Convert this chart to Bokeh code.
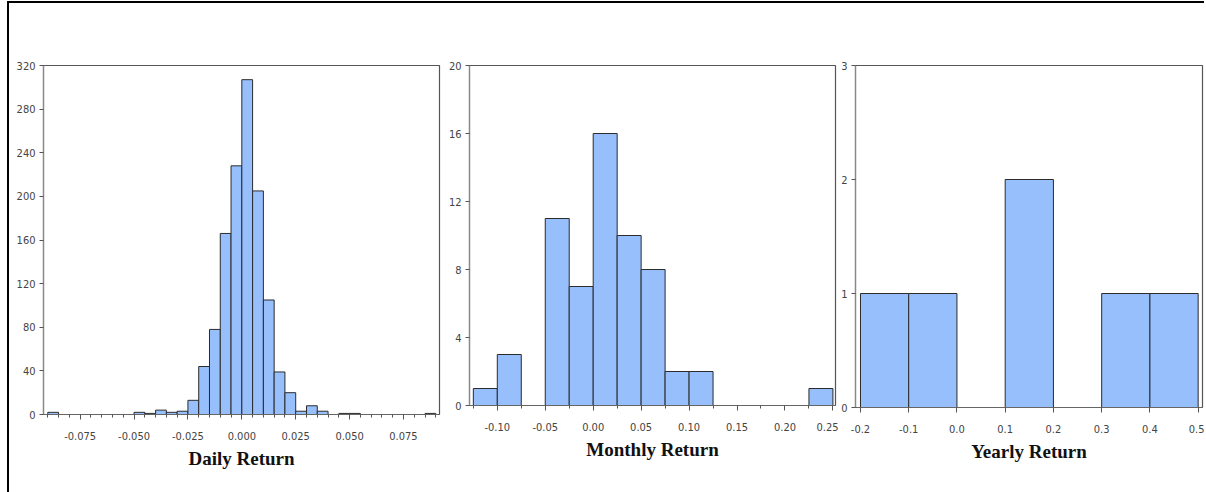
from bokeh.plotting import figure
from bokeh.layouts import row
from bokeh.models import SingleIntervalTicker, FixedTicker, NumeralTickFormatter, Range1d
from bokeh.embed import file_html
from bokeh.resources import INLINE

# ---------------- data ----------------
daily_bin_start = [-0.090, -0.050, -0.045, -0.040, -0.035, -0.030, -0.025, -0.020, -0.015,
                   -0.010, -0.005, 0.000, 0.005, 0.010, 0.015, 0.020, 0.025, 0.030,
                   0.035, 0.045, 0.050, 0.085]
daily_counts = [2, 2, 1, 4, 2, 3, 13, 44, 78, 166, 228, 307, 205, 105, 39, 20, 3, 8, 3, 1, 1, 1]
daily_bin_width = 0.005

monthly_bin_start = [-0.125, -0.100, -0.050, -0.025, 0.000, 0.025, 0.050, 0.075, 0.100, 0.225]
monthly_counts = [1, 3, 11, 7, 16, 10, 8, 2, 2, 1]
monthly_bin_width = 0.025

yearly_bin_start = [-0.2, -0.1, 0.1, 0.3, 0.4]
yearly_counts = [1, 1, 2, 1, 1]
yearly_bin_width = 0.1

daily_y_ticks = [0, 40, 80, 120, 160, 200, 240, 280, 320]
monthly_y_ticks = [0, 4, 8, 12, 16, 20]
yearly_y_ticks = [0, 1, 2, 3]

titles = ["Daily Return", "Monthly Return", "Yearly Return"]

BAR_FILL = "#97BFFC"
BAR_LINE = "#2b2b2b"
TICK_FONT = "DejaVu Sans Condensed"
TICK_COLOR = "#444444"


def make_panel(starts, counts, width, xr, yr, yticks, xint, nminor, fmt, label,
               frame_w, frame_h, b_left, b_right, b_top, b_bottom):
    p = figure(frame_width=frame_w, frame_height=frame_h,
               x_range=Range1d(*xr), y_range=Range1d(*yr),
               output_backend="svg", toolbar_location=None,
               min_border_left=b_left, min_border_right=b_right,
               min_border_top=b_top, min_border_bottom=b_bottom)
    lefts = [s for s in starts]
    rights = [s + width for s in starts]
    p.quad(left=lefts, right=rights, top=counts, bottom=0,
           fill_color=BAR_FILL, line_color=BAR_LINE, line_width=1)
    p.xgrid.visible = False
    p.ygrid.visible = False
    p.outline_line_color = "#555555"
    p.outline_line_width = 1.2
    p.background_fill_color = "white"
    p.border_fill_color = "white"

    xa = p.xaxis[0]
    xa.ticker = SingleIntervalTicker(interval=xint, num_minor_ticks=nminor)
    xa.formatter = NumeralTickFormatter(format=fmt)
    xa.axis_line_color = "#666666"
    xa.axis_line_width = 1.2
    xa.major_tick_line_color = "#555555"
    xa.minor_tick_line_color = "#555555"
    xa.major_tick_out = 5
    xa.major_tick_in = 0
    xa.minor_tick_out = 3
    xa.minor_tick_in = 0
    xa.major_label_text_font = TICK_FONT
    xa.major_label_text_font_size = "11px"
    xa.major_label_text_color = TICK_COLOR
    xa.major_label_standoff = 12
    xa.axis_label = label
    xa.axis_label_text_font = "Liberation Serif"
    xa.axis_label_text_font_style = "bold"
    xa.axis_label_text_font_size = "19px"
    xa.axis_label_text_color = "#111111"
    xa.axis_label_standoff = 5

    ya = p.yaxis[0]
    ya.ticker = FixedTicker(ticks=yticks)
    ya.axis_line_color = "#888888"
    ya.axis_line_width = 1.2
    ya.major_tick_line_color = "#555555"
    ya.major_tick_out = 4
    ya.major_tick_in = 0
    ya.minor_tick_line_color = None
    ya.major_label_text_font = TICK_FONT
    ya.major_label_text_font_size = "11px"
    ya.major_label_text_color = TICK_COLOR
    ya.major_label_standoff = 4
    return p


p1 = make_panel(daily_bin_start, daily_counts, daily_bin_width,
                (-0.092, 0.0917), (0, 320), daily_y_ticks, 0.025, 5, "0.000", titles[0],
                396, 349, 34, 6, 61, 79)
p2 = make_panel(monthly_bin_start, monthly_counts, monthly_bin_width,
                (-0.129, 0.2527), (0, 20), monthly_y_ticks, 0.05, 2, "0.00", titles[1],
                366, 340, 22, 3, 62, 87)
p3 = make_panel(yearly_bin_start, yearly_counts, yearly_bin_width,
                (-0.2103, 0.509), (0, 3), yearly_y_ticks, 0.1, 0, "0.0", titles[2],
                347, 342, 17, 2, 61, 86)

layout = row(p1, p2, p3, spacing=0,
             styles={"margin-left": "7px", "margin-top": "1px",
                     "border-top": "2px solid black", "border-left": "2px solid black"})

open("out.html", "w").write(file_html(layout, INLINE))
